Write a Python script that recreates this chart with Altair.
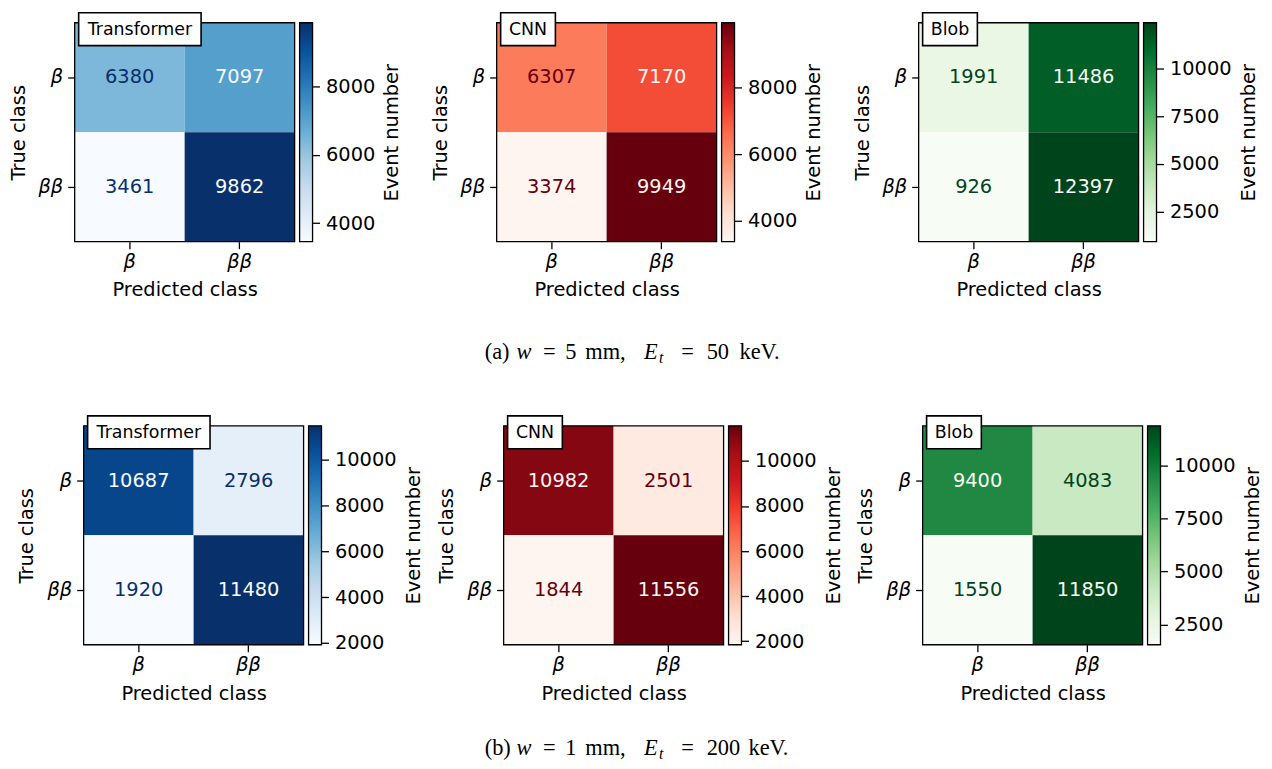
import altair as alt
import pandas as pd

# ---------------- data ----------------
classes = ["β", "ββ"]
models = ["Transformer", "CNN", "Blob"]
cmap_names = ["Blues", "Reds", "Greens"]

# row-major: (true β, pred β), (true β, pred ββ), (true ββ, pred β), (true ββ, pred ββ)
a_transformer = [6380, 7097, 3461, 9862]
a_cnn = [6307, 7170, 3374, 9949]
a_blob = [1991, 11486, 926, 12397]
b_transformer = [10687, 2796, 1920, 11480]
b_cnn = [10982, 2501, 1844, 11556]
b_blob = [9400, 4083, 1550, 11850]

a_ticks = [[4000, 6000, 8000], [4000, 6000, 8000], [2500, 5000, 7500, 10000]]
b_ticks = [[2000, 4000, 6000, 8000, 10000], [2000, 4000, 6000, 8000, 10000],
           [2500, 5000, 7500, 10000]]

caption_a = ["(a)", "w", "=", "5", "mm,", "E", "t", "=", "50", "keV."]
caption_b = ["(b)", "w", "=", "1", "mm,", "E", "t", "=", "200", "keV."]

# ---------------- styles / layout ----------------
CMAPS = {
    "Blues": ["#f7fbff", "#deebf7", "#c6dbef", "#9ecae1", "#6baed6",
              "#4292c6", "#2171b5", "#08519c", "#08306b"],
    "Reds": ["#fff5f0", "#fee0d2", "#fcbba1", "#fc9272", "#fb6a4a",
             "#ef3b2c", "#cb181d", "#a50f15", "#67000d"],
    "Greens": ["#f7fcf5", "#e5f5e0", "#c7e9c0", "#a1d99b", "#74c476",
               "#41ab5d", "#238b45", "#006d2c", "#00441b"],
}
FONT = "DejaVu Sans"
FS = 19.5
HEAT_W, HEAT_H = 221, 220
CBAR_W = 13
GAP = 5
BOX_W = {"Transformer": 123, "CNN": 55, "Blob": 55}
BOX_X, BOX_TOP, BOX_H = 4, -10, 33

LEAD, GAPS = 67, [174, 175]
SHIFT_A = [-5, -4, -4]   # per-panel horizontal nudge, row (a)
SHIFT_B = [4, 3, 0]      # per-panel horizontal nudge, row (b)
CAP1_H, CAP1_BASE = 185, 117.5
CAP2_H, CAP2_BASE = 116, 111
NCOLS = 9

# caption piece style: (italic, size factor, dy)
CAP_STYLE = [(False, 1.0, 0), (True, 1.0, 0), (False, 1.0, 0), (False, 1.0, 0),
             (False, 1.0, 0), (True, 1.0, 0), (True, 0.7, 4), (False, 1.0, 0),
             (False, 1.0, 0), (False, 1.0, 0)]
CAP_X_A = [0, 32, 58.5, 81, 101, 160, 175, 197.5, 223, 256]
CAP_X_B = [0, 32, 58.5, 81, 101, 160, 175, 197.5, 223, 265]
CAP_START = 479
CAP_FS = 22.5


def blank(w, h):
    return alt.Chart(pd.DataFrame({"_": [0]})).mark_rect(opacity=0).encode(
        x=alt.value(0), x2=alt.value(w), y=alt.value(0), y2=alt.value(1)
    ).properties(width=w, height=h)


def heat_chart(values, cmap, label, d):
    colors = CMAPS[cmap]
    vmin, vmax = min(values), max(values)
    thresh = (vmin + vmax) / 2
    n = len(colors)
    stops = [vmin + (vmax - vmin) * k / (n - 1) for k in range(n)]
    df = pd.DataFrame({
        "true": [classes[0], classes[0], classes[1], classes[1]],
        "pred": [classes[0], classes[1], classes[0], classes[1]],
        "value": values,
    })
    x = alt.X("pred:N", sort=classes,
              scale=alt.Scale(paddingInner=0, paddingOuter=0,
                              range=[d, d + HEAT_W]),
              axis=alt.Axis(title="Predicted class", labelAngle=0,
                            labelFontStyle="italic", labelPadding=4,
                            titlePadding=10))
    y = alt.Y("true:N", sort=classes,
              scale=alt.Scale(paddingInner=0, paddingOuter=0),
              axis=alt.Axis(title="True class", labelFontStyle="italic",
                            labelPadding=5, titlePadding=10, offset=-d))
    base = alt.Chart(df)
    cells = base.mark_rect(strokeWidth=0).encode(
        x=x, y=y,
        color=alt.Color("value:Q",
                        scale=alt.Scale(domain=stops, range=colors,
                                        interpolate="rgb"),
                        legend=None))
    nums = base.mark_text(font=FONT, fontSize=FS, baseline="middle",
                          align="center").encode(
        x=x, y=y,
        text=alt.Text("value:Q", format="d"),
        color=alt.condition(f"datum.value < {thresh}",
                            alt.value(colors[-1]), alt.value(colors[0])))
    one = pd.DataFrame({"label": [label]})
    frame = alt.Chart(one).mark_rect(filled=False, stroke="black",
                                     strokeWidth=1.3).encode(
        x=alt.value(d), x2=alt.value(d + HEAT_W),
        y=alt.value(0), y2=alt.value(HEAT_H))
    bw = BOX_W[label]
    box = alt.Chart(one).mark_rect(fill="white", stroke="black",
                                   strokeWidth=1.6).encode(
        x=alt.value(d + BOX_X), x2=alt.value(d + BOX_X + bw),
        y=alt.value(BOX_TOP), y2=alt.value(BOX_TOP + BOX_H))
    boxtext = alt.Chart(one).mark_text(font=FONT, fontSize=17.5,
                                       baseline="middle", align="center",
                                       color="black").encode(
        text="label:N",
        x=alt.value(d + BOX_X + bw / 2), y=alt.value(BOX_TOP + BOX_H / 2 + 1))
    return alt.layer(cells, nums, frame, box, boxtext).properties(
        width=HEAT_W, height=HEAT_H)


def cbar_chart(values, cmap, ticks, d):
    colors = CMAPS[cmap]
    vmin, vmax = min(values), max(values)
    n = len(colors)
    cdf = pd.DataFrame({"lo": [vmin], "hi": [vmax]})
    grad = alt.LinearGradient(
        gradient="linear",
        stops=[alt.GradientStop(offset=k / (n - 1), color=c)
               for k, c in enumerate(colors)],
        x1=0, x2=0, y1=1, y2=0)
    return alt.Chart(cdf).mark_rect(fill=grad, stroke="black",
                                    strokeWidth=1.3).encode(
        x=alt.value(d), x2=alt.value(d + CBAR_W),
        y=alt.Y("lo:Q",
                scale=alt.Scale(domain=[vmin, vmax], nice=False, zero=False),
                axis=alt.Axis(orient="right", values=ticks, format="d",
                              title="Event number", titleAngle=270,
                              titleBaseline="top", labelPadding=6,
                              titlePadding=8, labelFlush=False,
                              labelOverlap=False, offset=d)),
        y2="hi:Q").properties(width=CBAR_W, height=HEAT_H)


def row_items(sets, ticks, shifts):
    items = [blank(LEAD, HEAT_H)]
    for k, (v, c, m, t, d) in enumerate(zip(sets, cmap_names, models, ticks, shifts)):
        items += [heat_chart(v, c, m, d), cbar_chart(v, c, t, d)]
        if k < len(GAPS):
            items.append(blank(GAPS[k], HEAT_H))
    return items


def caption_items(pieces, xs, baseline, height):
    layers = [alt.Chart(pd.DataFrame({"_": [0]})).mark_rect(opacity=0).encode(
        x=alt.value(0), x2=alt.value(1), y=alt.value(0), y2=alt.value(1))]
    for txt, x0, (ital, sf, dy) in zip(pieces, xs, CAP_STYLE):
        layers.append(
            alt.Chart(pd.DataFrame({"t": [txt]})).mark_text(
                font="Liberation Serif", fontSize=CAP_FS * sf,
                fontStyle="italic" if ital else "normal",
                align="left", baseline="alphabetic", color="black").encode(
                text="t:N", x=alt.value(CAP_START + x0),
                y=alt.value(baseline + dy)))
    cap = alt.layer(*layers).properties(width=1, height=height)
    return [cap] + [blank(1, height) for _ in range(NCOLS - 1)]


items = (row_items([a_transformer, a_cnn, a_blob], a_ticks, SHIFT_A)
         + caption_items(caption_a, CAP_X_A, CAP1_BASE, CAP1_H)
         + row_items([b_transformer, b_cnn, b_blob], b_ticks, SHIFT_B)
         + caption_items(caption_b, CAP_X_B, CAP2_BASE, CAP2_H))

chart = alt.concat(*items, columns=NCOLS, bounds="flush", align="each",
                   spacing={"row": 0, "column": GAP}).resolve_scale(
    color="independent", x="independent", y="independent"
).properties(
    padding={"left": 0, "top": 2, "right": 2, "bottom": 0}
).configure_view(stroke=None).configure_axis(
    labelFont=FONT, titleFont=FONT, labelFontSize=FS, titleFontSize=FS,
    labelColor="black", titleColor="black", titleFontWeight="normal",
    tickColor="black", tickSize=7, tickWidth=1.3, domain=False, grid=False
)

chart.save("out.html", embed_options={"renderer": "svg", "actions": False})
